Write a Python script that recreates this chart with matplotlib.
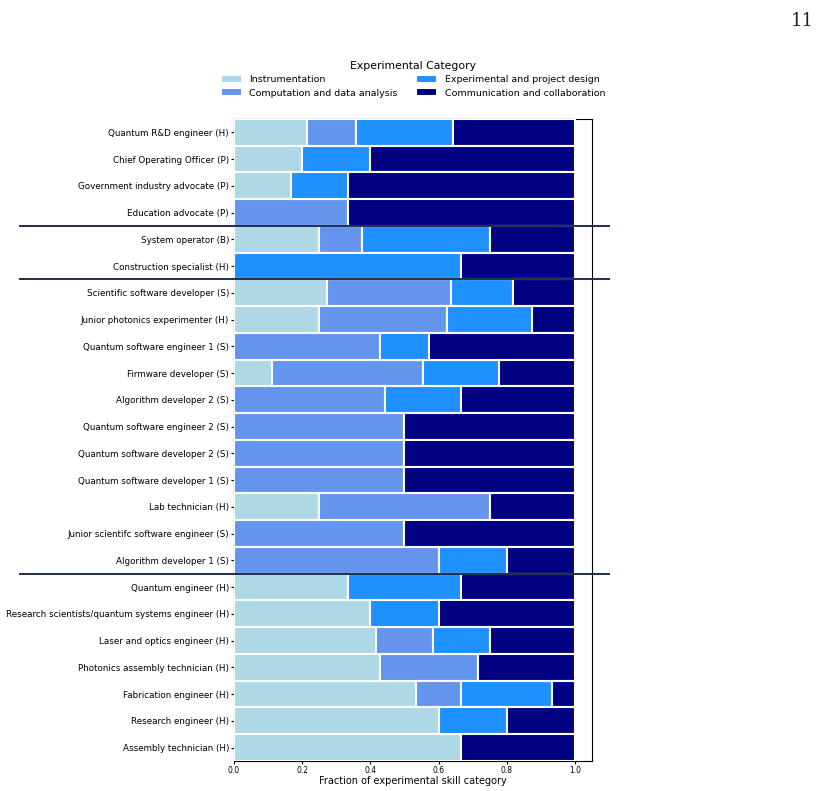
import numpy as np
import matplotlib
matplotlib.use("Agg")
import matplotlib.pyplot as plt

roles = [
    "Quantum R&D engineer (H)",
    "Chief Operating Officer (P)",
    "Government industry advocate (P)",
    "Education advocate (P)",
    "System operator (B)",
    "Construction specialist (H)",
    "Scientific software developer (S)",
    "Junior photonics experimenter (H)",
    "Quantum software engineer 1 (S)",
    "Firmware developer (S)",
    "Algorithm developer 2 (S)",
    "Quantum software engineer 2 (S)",
    "Quantum software developer 2 (S)",
    "Quantum software developer 1 (S)",
    "Lab technician (H)",
    "Junior scientifc software engineer (S)",
    "Algorithm developer 1 (S)",
    "Quantum engineer (H)",
    "Research scientists/quantum systems engineer (H)",
    "Laser and optics engineer (H)",
    "Photonics assembly technician (H)",
    "Fabrication engineer (H)",
    "Research engineer (H)",
    "Assembly technician (H)",
]

instrumentation = [0.214, 0.2, 0.167, 0.0, 0.25, 0.0, 0.273, 0.25, 0.0, 0.111, 0.0, 0.0,
                   0.0, 0.0, 0.25, 0.0, 0.0, 0.333, 0.4, 0.417, 0.429, 0.533, 0.6, 0.667]
computation = [0.143, 0.0, 0.0, 0.333, 0.125, 0.0, 0.364, 0.375, 0.429, 0.444, 0.444, 0.5,
               0.5, 0.5, 0.5, 0.5, 0.6, 0.0, 0.0, 0.167, 0.286, 0.133, 0.0, 0.0]
design = [0.286, 0.2, 0.167, 0.0, 0.375, 0.667, 0.182, 0.25, 0.143, 0.222, 0.222, 0.0,
          0.0, 0.0, 0.0, 0.0, 0.2, 0.333, 0.2, 0.167, 0.0, 0.267, 0.2, 0.0]
communication = [0.357, 0.6, 0.667, 0.667, 0.25, 0.333, 0.182, 0.125, 0.429, 0.222, 0.333, 0.5,
                 0.5, 0.5, 0.25, 0.5, 0.2, 0.333, 0.4, 0.25, 0.286, 0.067, 0.2, 0.333]

categories = ["Instrumentation", "Computation and data analysis",
              "Experimental and project design", "Communication and collaboration"]
colors = ["lightblue", "cornflowerblue", "dodgerblue", "navy"]

# rows after which a separator is drawn (counted from top)
group_breaks = [4, 6, 17]

fig = plt.figure(figsize=(8.19, 7.91), dpi=100)
ax = fig.add_axes([0.2857, 0.038, 0.7228 - 0.2857, 0.8496 - 0.038])

y = np.arange(len(roles))
left = np.zeros(len(roles))
for vals, name, c in zip([instrumentation, computation, design, communication], categories, colors):
    vals = np.array(vals)
    ax.barh(y, vals, left=left, height=1.0, color=c, edgecolor="white",
            linewidth=1.5, label=name, zorder=3)
    left += vals

ax.set_ylim(len(roles) - 0.5, -0.5)
ax.set_xlim(0, 1.05)
ax.set_yticks(y)
ax.set_yticklabels(roles, fontsize=6.35)
ax.set_xticks([0.0, 0.2, 0.4, 0.6, 0.8, 1.0])
ax.tick_params(axis="x", labelsize=5.5, length=2, pad=1.5)
ax.tick_params(axis="y", length=2, pad=1.5)
ax.set_xlabel("Fraction of experimental skill category", fontsize=7, labelpad=1)

for b in group_breaks:
    ax.plot([-0.627, 1.1], [b - 0.5, b - 0.5], color="#1f2d4a", lw=1.4,
            clip_on=False, zorder=4)

ax.legend(title="Experimental Category", ncol=2, frameon=False, fontsize=6.8,
          title_fontsize=7.8, loc="lower center", bbox_to_anchor=(0.5, 1.023),
          handlelength=2.2, handleheight=0.9, columnspacing=2.0,
          handletextpad=0.8, labelspacing=0.45, borderpad=0.2)

fig.text(0.993, 0.985, "11", ha="right", va="top", fontsize=13,
         family="DejaVu Serif", color="#222222")

fig.savefig("out.png", dpi=100)
